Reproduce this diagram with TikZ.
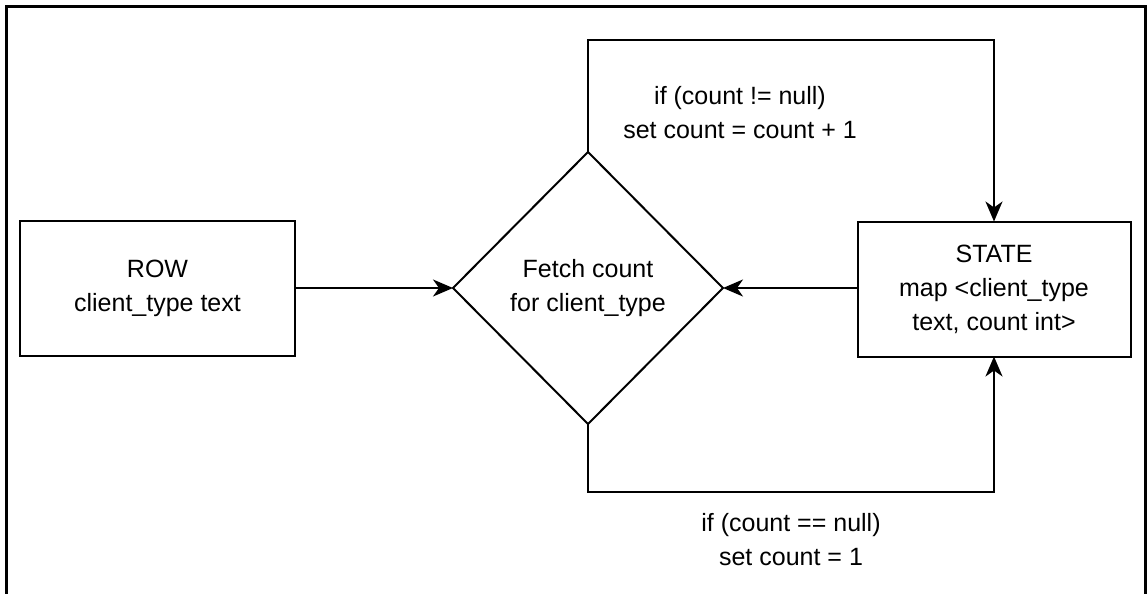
\documentclass[tikz,border=0pt]{standalone}
\usepackage{fontspec}
\setmainfont{Liberation Sans}
\usepackage{tikz}
\usetikzlibrary{arrows.meta,shapes.geometric}
\tikzset{
  txt/.style={align=center,font=\fontsize{12.5}{17}\selectfont},
  boxnode/.style={txt,draw,line width=1pt,inner sep=0pt,outer sep=0pt},
  decide/.style={txt,draw,diamond,line width=1pt,inner sep=0pt,outer sep=0pt,
    minimum width=135pt,minimum height=136pt},
  link/.style={line width=1pt,-{Stealth[length=10pt,width=8.5pt,inset=3pt]}}
}
\begin{document}
\begin{tikzpicture}[line cap=butt,line join=miter,x=0.5pt,y=-0.5pt]
\useasboundingbox (0,0) rectangle (1147,594);
\draw [line width=1.5pt] (6,594) -- (6,6) -- (1145,6) -- (1145,594);
\node[boxnode,minimum width=137.5pt,minimum height=67.5pt] (row) at (157.5,288) {ROW\\client\_type text};
\node[decide] (fetch) at (588,288) {Fetch count\\for client\_type};
\node[boxnode,minimum width=136.5pt,minimum height=67.5pt] (state) at (994,289) {STATE\\map <client\_type\\text, count int>};
\draw [link] (row.east) -- (fetch.west);
\draw [link] (state.west |- fetch.east) -- (fetch.east);
\draw [link] (fetch.north) -- (fetch.north |- 0,40) -| (state.north);
\draw [link] (fetch.south) -- (fetch.south |- 0,492) -| (state.south);
\node[txt] (upd) at (740,113) {if (count != null)\\set count = count + 1};
\node[txt] (ins) at (791,540) {if (count == null)\\set count = 1};
\end{tikzpicture}
\end{document}
